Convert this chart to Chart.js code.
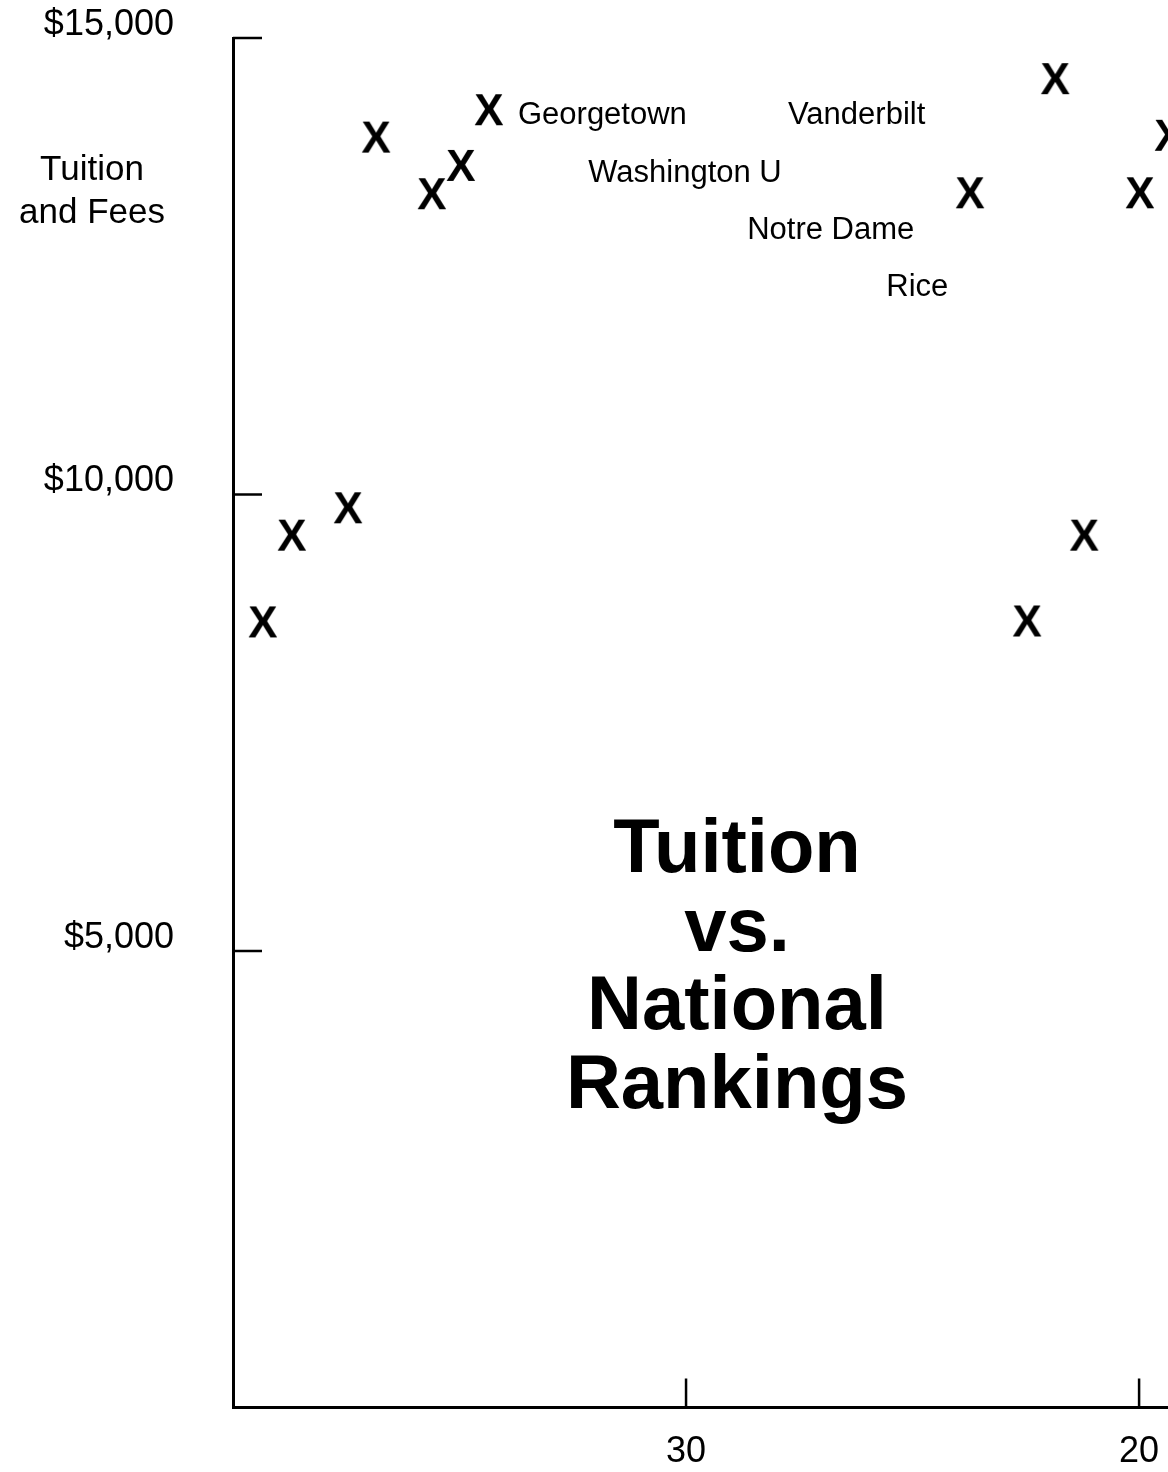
<!DOCTYPE html>
<html><head><meta charset="utf-8">
<script src="https://cdn.jsdelivr.net/npm/chart.js@4.4.0/dist/chart.umd.min.js"></script>
<style>
html,body{margin:0;padding:0;background:#fff;overflow:hidden;width:1168px;height:1472px;}
#wrap{position:relative;width:1275px;height:1472px;}
canvas{display:block;}
</style></head><body>
<div id="wrap"><canvas id="c" width="1275" height="1472"></canvas></div>
<script>
// ---- data ----
const ranks   = [39.34, 38.70, 37.46, 36.84, 35.61, 34.97, 34.35, 23.73, 22.47, 21.85, 21.21, 19.98, 19.34];
const tuition = [8610, 9560, 9860, 13920, 13300, 13610, 14220, 13310, 8620, 14560, 9560, 13310, 13940];
const xTickValues = [30, 20];
const yTickValues = [15000, 10000, 5000];
const schoolNames  = ['Georgetown', 'Vanderbilt', 'Washington U', 'Notre Dame', 'Rice'];
const schoolRanks  = [33.71, 27.75, 32.16, 28.65, 25.58];
const schoolValues = [14180, 14180, 13540, 12920, 12300];
const titleLines  = ['Tuition', 'vs.', 'National', 'Rankings'];
const yTitleLines = ['Tuition', 'and Fees'];

const FONT = '"Liberation Sans", Arial, Helvetica, sans-serif';

function makeXMarker() {
  const c = document.createElement('canvas');
  c.width = 32; c.height = 36;
  const g = c.getContext('2d');
  g.fillStyle = '#000';
  g.font = 'bold 44px ' + FONT;
  g.textAlign = 'center';
  g.textBaseline = 'alphabetic';
  g.fillText('X', 16, 18 + 15.75);
  return c;
}
const xMarker = makeXMarker();

function zeroPad(s) { s.paddingTop = 0; s.paddingBottom = 0; s.paddingLeft = 0; s.paddingRight = 0; }

const annotations = {
  id: 'annotations',
  afterDatasetsDraw(chart) {
    const {ctx, chartArea: a, scales: {x, y}} = chart;
    ctx.save();
    // inward tick marks
    ctx.strokeStyle = '#000';
    ctx.lineWidth = 2.5;
    yTickValues.forEach(v => {
      const py = y.getPixelForValue(v);
      ctx.beginPath(); ctx.moveTo(a.left, py); ctx.lineTo(a.left + 29, py); ctx.stroke();
    });
    xTickValues.forEach(v => {
      const px = x.getPixelForValue(v);
      ctx.beginPath(); ctx.moveTo(px, a.bottom); ctx.lineTo(px, a.bottom - 29); ctx.stroke();
    });
    // school labels
    ctx.fillStyle = '#000';
    ctx.font = '31px ' + FONT;
    ctx.textAlign = 'left';
    ctx.textBaseline = 'alphabetic';
    schoolNames.forEach((n, i) => {
      ctx.fillText(n, x.getPixelForValue(schoolRanks[i]), y.getPixelForValue(schoolValues[i]) + 11);
    });
    // y title
    ctx.font = '35px ' + FONT;
    ctx.textAlign = 'center';
    yTitleLines.forEach((t, i) => ctx.fillText(t, 92, 180 + i * 43));
    // big title
    ctx.font = 'bold 76px ' + FONT;
    titleLines.forEach((t, i) => ctx.fillText(t, 737, 872 + i * 78.7));
    ctx.restore();
  }
};

new Chart(document.getElementById('c'), {
  type: 'scatter',
  data: {
    datasets: [{
      data: ranks.map((r, i) => ({x: r, y: tuition[i]})),
      pointStyle: xMarker,
      pointRadius: 16,
      pointHoverRadius: 16,
      borderWidth: 0
    }]
  },
  options: {
    responsive: false,
    animation: false,
    devicePixelRatio: 1,
    layout: {autoPadding: false, padding: {top: 38, left: 0, right: 0, bottom: 0}},
    plugins: {legend: {display: false}, tooltip: {enabled: false}, title: {display: false}},
    scales: {
      x: {
        type: 'linear', position: 'bottom', reverse: true, min: 17, max: 40,
        grid: {display: false, drawTicks: false},
        border: {display: true, color: '#000', width: 3},
        ticks: {color: '#000', font: {family: FONT, size: 36}, padding: 23, maxRotation: 0},
        afterBuildTicks: s => { s.ticks = xTickValues.map(v => ({value: v})); },
        afterFit: s => { s.height = 64.5; zeroPad(s); }
      },
      y: {
        type: 'linear', position: 'left', min: 0, max: 15000,
        grid: {display: false, drawTicks: false},
        border: {display: true, color: '#000', width: 3},
        ticks: {
          color: '#000', font: {family: FONT, size: 36}, padding: 59, labelOffset: -13,
          callback: v => '$' + Number(v).toLocaleString('en-US')
        },
        afterBuildTicks: s => { s.ticks = yTickValues.map(v => ({value: v})); },
        afterFit: s => { s.width = 233; zeroPad(s); }
      }
    }
  },
  plugins: [annotations]
});
</script>
</body></html>
